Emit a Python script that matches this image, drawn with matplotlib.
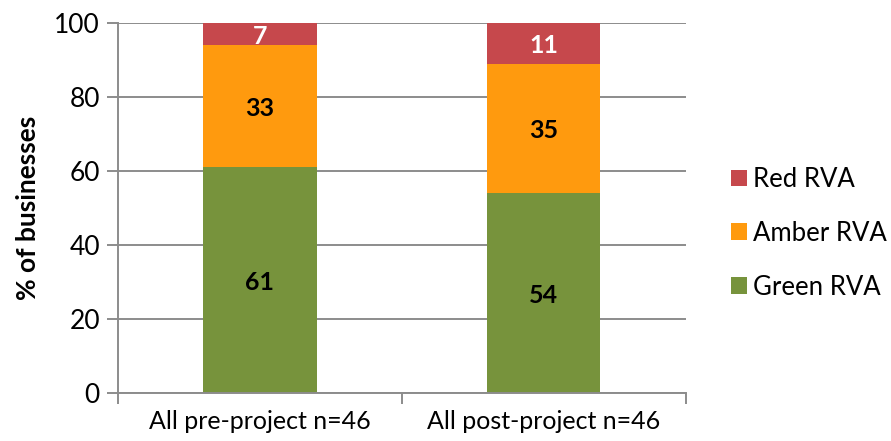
import matplotlib
matplotlib.use("Agg")
import matplotlib.pyplot as plt
import numpy as np

plt.rcParams['font.family'] = ['Lato', 'DejaVu Sans']

categories = ["All pre-project n=46", "All post-project n=46"]
series_names = ["Green RVA", "Amber RVA", "Red RVA"]
green = [61, 54]
amber = [33, 35]
red = [7, 11]
colors = {"Green RVA": "#77933C", "Amber RVA": "#FF9A0E", "Red RVA": "#C6484C"}
label_colors = {"Green RVA": "black", "Amber RVA": "black", "Red RVA": "white"}
y_ticks = [0, 20, 40, 60, 80, 100]

fig = plt.figure(figsize=(8.91, 4.41), dpi=100)
ax = fig.add_axes([0.1324, 0.109, 0.637, 0.839])

x = np.arange(len(categories))
width = 0.4
grid_color = "#8C8C8C"

ax.set_ylim(0, 100)
ax.set_xlim(-0.5, len(categories) - 0.5)
ax.set_yticks(y_ticks)
ax.yaxis.grid(True, color=grid_color, linewidth=1.4)
ax.set_axisbelow(True)

bottom = np.zeros(len(categories))
handles = {}
for name, vals in zip(series_names, [green, amber, red]):
    vals = np.array(vals, dtype=float)
    bars = ax.bar(x, vals, width, bottom=bottom, color=colors[name],
                  label=name, zorder=2)
    handles[name] = bars
    for xi, b, v in zip(x, bottom, vals):
        top = min(b + v, 100)
        ax.text(xi, (b + top) / 2 - 0.6, f"{int(v)}", ha="center", va="center",
                fontsize=18, fontweight="bold", color=label_colors[name],
                zorder=3)
    bottom = bottom + vals

for side in ["top", "right"]:
    ax.spines[side].set_visible(False)
for side in ["left", "bottom"]:
    ax.spines[side].set_color(grid_color)
    ax.spines[side].set_linewidth(1.4)

ax.tick_params(axis="y", length=8, width=1.4, color=grid_color,
               labelsize=19, pad=5, labelcolor="black")
ax.set_xticks(x)
ax.set_xticklabels(categories, fontsize=18)
ax.set_xticks(np.arange(-0.5, len(categories)), minor=True)
ax.tick_params(axis="x", which="major", length=0, pad=12)
ax.tick_params(axis="x", which="minor", length=8, width=1.4, color=grid_color)

ax.set_ylabel("% of businesses", fontsize=19, fontweight="bold", labelpad=10)

order = ["Red RVA", "Amber RVA", "Green RVA"]
fig.legend([handles[n] for n in order], order, loc="center left",
           bbox_to_anchor=(0.820, 0.471), frameon=False, fontsize=18.5,
           borderpad=0, borderaxespad=0,
           handlelength=0.62, handleheight=0.62, handletextpad=0.25,
           labelspacing=1.12)

fig.savefig("out.png", dpi=100)
